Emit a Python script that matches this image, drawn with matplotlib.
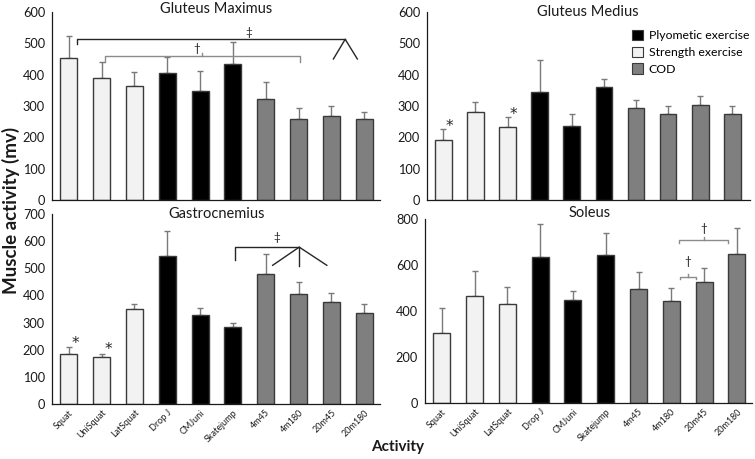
import matplotlib
matplotlib.use("Agg")
import matplotlib.pyplot as plt
from matplotlib.patches import Patch
import numpy as np

plt.rcParams['font.family'] = ['Lato', 'DejaVu Sans']

activities = ["Squat", "UniSquat", "LatSquat", "Drop J", "CMJuni", "Skatejump",
              "4m45", "4m180", "20m45", "20m180"]
groups = ["Strength", "Strength", "Strength", "Plyo", "Plyo", "Plyo",
          "COD", "COD", "COD", "COD"]

gmax_mean = [452, 390, 365, 404, 349, 434, 322, 259, 268, 257]
gmax_err = [73, 51, 44, 53, 63, 70, 54, 35, 31, 23]
gmed_mean = [192, 280, 234, 346, 236, 362, 293, 273, 303, 273]
gmed_err = [35, 33, 31, 101, 40, 25, 25, 27, 30, 26]
gast_mean = [186, 174, 349, 546, 329, 285, 480, 406, 376, 335]
gast_err = [23, 11, 19, 92, 23, 12, 73, 44, 33, 35]
sol_mean = [303, 464, 429, 633, 447, 642, 494, 445, 527, 647]
sol_err = [109, 111, 74, 144, 41, 98, 77, 54, 58, 116]

colors = {"Strength": "#f2f2f2", "Plyo": "#000000", "COD": "#7f7f7f"}
legend_labels = [("Plyo", "Plyometic exercise"), ("Strength", "Strength exercise"), ("COD", "COD")]

W, H = 755, 459
fig = plt.figure(figsize=(W / 100, H / 100), dpi=100)


def add_ax(left, right, top, bottom):
    return fig.add_axes([left / W, 1 - bottom / H, (right - left) / W, (bottom - top) / H])


def draw(ax, mean, err, ymax, ystep, title, title_y, xlim, xlabels):
    x = np.arange(len(activities))
    ax.bar(x, mean, width=0.52, color=[colors[g] for g in groups],
           edgecolor="#3a3a3a", linewidth=1.0, zorder=2)
    ax.errorbar(x, mean, yerr=[np.zeros(len(err)), err], fmt="none",
                ecolor="#7a7a7a", elinewidth=1.0, capsize=2, capthick=1.0, zorder=1.5)
    ax.set_xlim(*xlim)
    ax.set_ylim(0, ymax)
    ax.set_yticks(np.arange(0, ymax + 1, ystep))
    ax.tick_params(axis="both", length=0, labelsize=9.2, colors="#1a1a1a", pad=5)
    for s in ["top", "right"]:
        ax.spines[s].set_visible(False)
    ax.spines["left"].set_color("#1a1a1a")
    ax.spines["bottom"].set_color("#1a1a1a")
    ax.spines["left"].set_linewidth(0.9)
    ax.spines["bottom"].set_linewidth(0.9)
    ax.set_xticks(x)
    if xlabels:
        ax.set_xticklabels(activities, rotation=45, ha="right", rotation_mode="anchor",
                           fontsize=6.5, color="#1a1a1a")
        ax.tick_params(axis="x", pad=3)
    else:
        ax.set_xticklabels([])
    ax.text(4.5, title_y, title, ha="center", va="center", fontsize=10.5,
            color="#1a1a1a", clip_on=False)


ax1 = add_ax(52, 380, 12, 200)
draw(ax1, gmax_mean, gmax_err, 600, 100, "Gluteus Maximus", 610, (-0.51, 9.48), False)
ax2 = add_ax(427, 750, 12, 200)
draw(ax2, gmed_mean, gmed_err, 600, 100, "Gluteus Medius", 600, (-0.51, 9.55), False)
ax3 = add_ax(52, 380, 214, 404)
draw(ax3, gast_mean, gast_err, 700, 100, "Gastrocnemius", 700, (-0.51, 9.48), True)
ax4 = add_ax(425, 752, 219, 403)
draw(ax4, sol_mean, sol_err, 800, 200, "Soleus", 826, (-0.51, 9.46), True)

dark = "#262626"
light = "#8c8c8c"
# Gluteus Maximus brackets
ax1.plot([0.25, 0.25, 8.42], [497, 513, 513], color=dark, lw=1, clip_on=False)
ax1.plot([8.06, 8.42, 8.79], [450, 513, 450], color=dark, lw=1, clip_on=False)
ax1.text(5.47, 533, "\u2021", ha="center", va="center", fontsize=8.5, color=dark)
ax1.plot([1.09, 1.09, 7.03, 7.03], [442, 458, 458, 442], color=light, lw=1)
ax1.plot([4.05, 4.05], [458, 470], color=light, lw=1)
ax1.text(3.9, 485, "\u2020", ha="center", va="center", fontsize=8.5, color=dark)

star = dict(ha="center", va="center", fontsize=11, color=dark, family="DejaVu Sans")
# Gluteus Medius asterisks
for i in [0, 2]:
    ax2.text(i + 0.18, gmed_mean[i] + gmed_err[i] + 8, "*", **star)

# Gastrocnemius asterisks and bracket
for i in [0, 1]:
    ax3.text(i + 0.21, gast_mean[i] + gast_err[i] + 14, "*", **star)
ax3.plot([5.07, 5.07, 7.02], [529, 578, 578], color=dark, lw=1)
ax3.plot([6.21, 7.02, 7.86], [511, 578, 511], color=dark, lw=1)
ax3.plot([7.02, 7.02], [578, 507], color=dark, lw=1)
ax3.text(6.35, 615, "\u2021", ha="center", va="center", fontsize=8.5, color=dark)

# Soleus brackets
ax4.plot([7.22, 7.22, 8.72, 8.72], [697, 708, 708, 697], color=light, lw=1, clip_on=False)
ax4.plot([7.99, 7.99], [708, 720], color=light, lw=1, clip_on=False)
ax4.text(7.99, 759, "\u2020", ha="center", va="center", fontsize=8.5, color=dark, clip_on=False)
ax4.plot([7.27, 7.27, 7.75, 7.75], [538, 549, 549, 538], color=light, lw=1)
ax4.plot([7.5, 7.5], [549, 561], color=light, lw=1)
ax4.text(7.5, 614, "\u2020", ha="center", va="center", fontsize=8.5, color=dark)

# Legend
handles = [Patch(facecolor=colors[k], edgecolor="#3a3a3a", linewidth=0.8, label=l)
           for k, l in legend_labels]
ax2.legend(handles=handles, loc="upper left", bbox_to_anchor=(623 / W, 1 - 21 / H),
           bbox_transform=fig.transFigure, frameon=False, fontsize=8.8,
           handlelength=0.95, handleheight=0.95, handletextpad=0.45, labelspacing=0.45,
           borderpad=0.2)

fig.text(11 / W, 1 - 210 / H, "Muscle activity (mv)", rotation=90, ha="center", va="center",
         fontsize=13.5, fontweight="bold", color="#1a1a1a")
fig.text(398 / W, 1 - 447 / H, "Activity", ha="center", va="center",
         fontsize=11, fontweight="bold", color="#1a1a1a")

fig.savefig("out.png", dpi=100)
